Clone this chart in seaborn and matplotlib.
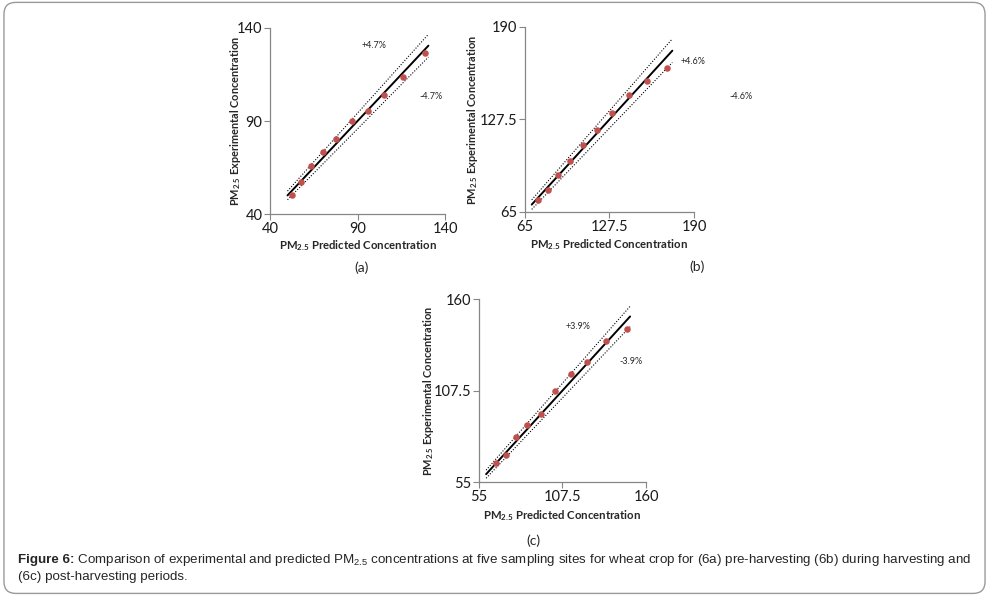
import numpy as np
import pandas as pd
import matplotlib
matplotlib.use("Agg")
import matplotlib.pyplot as plt
import seaborn as sns
from matplotlib.patches import FancyBboxPatch

# --- data ---
pred_a = [52.4, 57.7, 63.4, 70.5, 77.5, 86.7, 95.8, 105.0, 116.2, 128.4]
exp_a = [50.4, 57.0, 65.9, 73.6, 80.4, 90.0, 95.4, 103.8, 113.6, 126.6]
line_a = [50.0, 130.5]

pred_b = [74.9, 81.8, 89.7, 98.3, 107.9, 118.3, 129.3, 141.9, 155.0, 170.0]
exp_b = [73.1, 80.0, 89.9, 99.6, 110.3, 120.2, 132.1, 143.8, 153.4, 162.0]
line_b = [70.0, 174.0]

pred_c = [65.5, 71.8, 78.1, 85.4, 94.1, 102.9, 112.7, 123.2, 134.8, 147.8]
exp_c = [65.7, 70.7, 80.7, 87.8, 94.1, 107.3, 116.7, 124.0, 136.0, 142.6]
line_c = [59.5, 150.0]

pct = [4.7, 4.6, 3.9]
limits = [(40, 140), (65, 190), (55, 160)]
ticks = [[40, 90, 140], [65, 127.5, 190], [55, 107.5, 160]]
tick_labels = [["40", "90", "140"], ["65", "127.5", "190"], ["55", "107.5", "160"]]
panel_names = ["(a)", "(b)", "(c)"]

sns.set_theme(style="white")
plt.rcParams["font.family"] = ["Lato", "DejaVu Sans"]
plt.rcParams["mathtext.fontset"] = "custom"
plt.rcParams["mathtext.rm"] = "Lato"
plt.rcParams["mathtext.bf"] = "Lato:bold"
plt.rcParams["mathtext.sf"] = "Liberation Sans"

fig = plt.figure(figsize=(9.89, 5.97), dpi=100)

# rounded frame round the whole figure
frame = FancyBboxPatch((0.004, 0.006), 0.992, 0.99, boxstyle="round,pad=0,rounding_size=0.012",
                       transform=fig.transFigure, fill=False, edgecolor="#9a9a9a", lw=1.0,
                       mutation_aspect=989 / 597)
fig.patches.append(frame)

positions = [
    [0.273, 0.6415, 0.177, 0.3116],
    [0.5308, 0.6449, 0.1709, 0.3099],
    [0.4843, 0.1926, 0.1689, 0.3065],
]
datasets = [(pred_a, exp_a, line_a), (pred_b, exp_b, line_b), (pred_c, exp_c, line_c)]
# percent label positions (data coords)
label_pos = [
    [(99.4, 130.7), (131.8, 103.0)],
    [(189.0, 166.4), (225.0, 142.9)],
    [(117.0, 144.3), (150.3, 124.2)],
]
name_pos = [(0.366, 0.551), (0.705, 0.553), (0.539, 0.094)]
xlabel_y = [-0.172, -0.178, -0.186]
ylabel_x = [-0.195, -0.31, -0.30]

for i, (pred, exp, line) in enumerate(datasets):
    ax = fig.add_axes(positions[i])
    df = pd.DataFrame({"pred": pred, "exp": exp})
    lx = np.array(line)
    p = pct[i] / 100
    sns.lineplot(x=lx, y=lx * (1 + p), ax=ax, color="black", lw=0.8, linestyle=(0, (1, 1.5)))
    sns.lineplot(x=lx, y=lx * (1 - p), ax=ax, color="black", lw=0.8, linestyle=(0, (1, 1.5)))
    sns.lineplot(x=lx, y=lx, ax=ax, color="black", lw=1.4)
    sns.scatterplot(data=df, x="pred", y="exp", ax=ax, color="#C0504D", s=22,
                    edgecolor="#C0504D", linewidth=0, zorder=5)

    lo, hi = limits[i]
    ax.set_xlim(lo, hi)
    ax.set_ylim(lo, hi)
    ax.set_xticks(ticks[i])
    ax.set_xticklabels(tick_labels[i])
    ax.set_yticks(ticks[i])
    ax.set_yticklabels(tick_labels[i])
    ax.tick_params(axis="both", labelsize=10.5, length=4, width=0.8, color="#868686",
                   direction="out", pad=1.5, labelcolor="#1a1a1a")
    ax.tick_params(axis="both", bottom=True, left=True)
    for s in ["top", "right"]:
        ax.spines[s].set_visible(False)
    for s in ["left", "bottom"]:
        ax.spines[s].set_color("#868686")
        ax.spines[s].set_linewidth(0.9)

    ax.set_xlabel(r"PM$_{\mathbf{2.5}}$ Predicted Concentration", fontsize=8.2,
                  fontweight="bold")
    ax.set_ylabel(r"PM$_{\mathbf{2.5}}$ Experimental Concentration", fontsize=7.9,
                  fontweight="bold")
    ax.xaxis.set_label_coords(0.5, xlabel_y[i])
    ax.yaxis.set_label_coords(ylabel_x[i], 0.5)
    ax.xaxis.label.set_va("center")
    ax.yaxis.label.set_va("center")

    (ux, uy), (dx, dy) = label_pos[i]
    ax.text(ux, uy, f"+{pct[i]}%", fontsize=6.5, ha="center", va="center", clip_on=False)
    ax.text(dx, dy, f"-{pct[i]}%", fontsize=6.5, ha="center", va="center", clip_on=False)

    fig.text(name_pos[i][0], name_pos[i][1], panel_names[i], fontsize=10,
             ha="center", va="center")

# caption: bold lead-in, then the rest placed just after it
cap_font = ["Liberation Sans", "DejaVu Sans"]
cap_size = 9.63
lead = fig.text(0.018, 0.062, "Figure 6:", fontsize=cap_size, family=cap_font,
                fontweight="bold", ha="left", va="center")
renderer = fig.canvas.get_renderer()
bb = lead.get_window_extent(renderer=renderer)
x_rest = bb.x1 / fig.bbox.width
fig.text(x_rest, 0.062,
         r" Comparison of experimental and predicted PM$_{\mathsf{2.5}}$ concentrations at five "
         "sampling sites for wheat crop for (6a) pre-harvesting (6b) during harvesting and",
         fontsize=cap_size, family=cap_font, ha="left", va="center")
fig.text(0.018, 0.033, "(6c) post-harvesting periods.", fontsize=cap_size, family=cap_font,
         ha="left", va="center")

fig.savefig("out.png", dpi=100)
